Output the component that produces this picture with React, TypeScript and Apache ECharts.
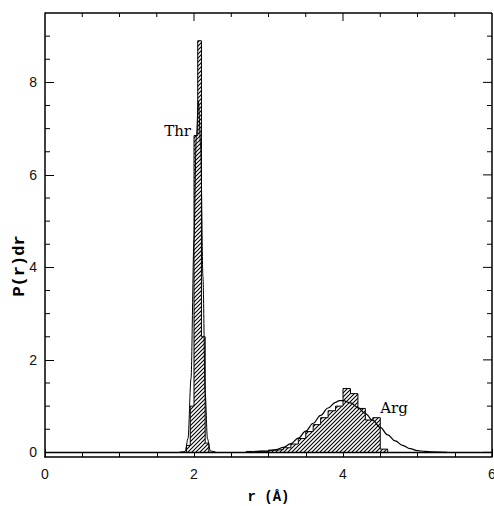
import React, { useEffect, useRef } from 'react';
import * as echarts from 'echarts';

// Histogram of Thr (bin edges in Å, heights P(r)dr)
const thrBinEdges = [1.9, 1.95, 2.0, 2.05, 2.1, 2.15, 2.2];
const thrHeights = [0.15, 1.0, 6.85, 8.9, 2.5, 0.2];

// Histogram of Arg
const argBinEdges = [2.7, 2.8, 2.9, 3.0, 3.1, 3.2, 3.3, 3.4, 3.5, 3.6, 3.7, 3.8, 3.9, 4.0, 4.1, 4.2, 4.3, 4.4, 4.5, 4.6];
const argHeights = [0.02, 0.03, 0.02, 0.05, 0.06, 0.1, 0.18, 0.3, 0.45, 0.6, 0.75, 0.9, 1.0, 1.38, 1.27, 0.95, 0.7, 0.75, 0.07];

// Fitted curves
const thrCurveR = [1.8, 1.88, 1.92, 1.96, 2.0, 2.03, 2.06, 2.09, 2.12, 2.15, 2.18, 2.22, 2.3];
const thrCurveP = [0, 0.02, 0.3, 1.6, 4.6, 6.8, 7.6, 6.6, 3.8, 1.3, 0.3, 0.03, 0];
const argCurveR = [2.8, 3.0, 3.1, 3.2, 3.3, 3.4, 3.5, 3.6, 3.7, 3.8, 3.9, 3.95, 4.0, 4.1, 4.2, 4.3, 4.4, 4.5, 4.6, 4.7, 4.8, 4.9, 5.0, 5.1, 5.2, 5.4];
const argCurveP = [0, 0.03, 0.06, 0.11, 0.19, 0.31, 0.46, 0.63, 0.8, 0.96, 1.08, 1.12, 1.12, 1.07, 0.97, 0.84, 0.69, 0.54, 0.38, 0.25, 0.15, 0.08, 0.04, 0.02, 0.01, 0];
const baselineR = [0, 6];
const baselineP = [0, 0];

// Axis ranges and ticks
const xMin = 0;
const xMax = 6;
const yMin = -0.1;
const yMax = 9.5;
const xMajorTicks = [2, 4];
const xMinorTicks = [0.5, 1, 1.5, 2.5, 3, 3.5, 4.5, 5, 5.5];
const yLabelTicks = [0, 2, 4, 6, 8];
const yMinorTicks = [0.5, 1, 1.5, 2.5, 3, 3.5, 4.5, 5, 5.5, 6.5, 7, 7.5, 8.5, 9];

// Annotations
const annotations = [
  { text: 'Thr', r: 1.96, p: 6.95, align: 'right' },
  { text: 'Arg', r: 4.5, p: 0.97, align: 'left' },
];

function histOutline(edges: number[], heights: number[]) {
  const pts: number[][] = [[edges[0], 0]];
  heights.forEach((h, i) => {
    pts.push([edges[i], h]);
    pts.push([edges[i + 1], h]);
  });
  pts.push([edges[edges.length - 1], 0]);
  return pts;
}

function zip(a: number[], b: number[]) {
  return a.map((v, i) => [v, b[i]]);
}

const hatchSvg =
  'data:image/svg+xml;charset=utf-8,' +
  encodeURIComponent(
    '<svg xmlns="http://www.w3.org/2000/svg" width="4" height="4"><rect width="4" height="4" fill="#fff"/><path d="M0,4L4,0M-1,1L1,-1M3,5L5,3" stroke="#000" stroke-width="1.1"/></svg>'
  );

export default function App() {
  const ref = useRef<HTMLDivElement>(null);
  useEffect(() => {
    if (!ref.current) return;
    const chart = echarts.init(ref.current, null, { renderer: 'svg' });
    const hatch: any = { image: hatchSvg, repeat: 'repeat', imageWidth: 4, imageHeight: 4 };
    const axisLine = { show: true, onZero: false, lineStyle: { color: '#000', width: 1.5 } };
    const labelStyle = { fontFamily: 'Liberation Sans', fontSize: 14, color: '#111' };
    const lineSeries = (data: number[][], width: number, extra: any = {}) => ({
      type: 'line', data, symbol: 'none', silent: true,
      lineStyle: { color: '#000', width }, ...extra,
    });
    chart.setOption({
      animation: false,
      grid: { left: 45, right: 2, top: 13, bottom: 49, outerBoundsMode: 'none' },
      xAxis: {
        type: 'value', min: xMin, max: xMax, interval: 2, position: 'bottom',
        axisLine,
        axisTick: { show: true, inside: true, length: 8, lineStyle: { color: '#000', width: 1 } },
        minorTick: { show: true, splitNumber: 4, length: 4, lineStyle: { color: '#000', width: 1 } },
        splitLine: { show: false },
        axisLabel: { ...labelStyle, margin: 10 },
      },
      yAxis: {
        type: 'value', min: yMin, max: yMax, position: 'left',
        axisLine,
        splitLine: { show: false },
        axisTick: { show: true, inside: true, length: 9, customValues: yLabelTicks, lineStyle: { color: '#000', width: 1 } },
        axisLabel: { ...labelStyle, margin: 8, customValues: yLabelTicks },
      },
      series: [
        lineSeries(histOutline(argBinEdges, argHeights), 1, { areaStyle: { color: hatch, opacity: 1 } }),
        lineSeries(histOutline(thrBinEdges, thrHeights), 1, { areaStyle: { color: hatch, opacity: 1 } }),
        lineSeries(zip(baselineR, baselineP), 1.5),
        lineSeries(zip(argCurveR, argCurveP), 1.2, { smooth: 0.4, smoothMonotone: 'x' }),
        lineSeries(zip(thrCurveR, thrCurveP), 1.0, { smooth: 0.3, smoothMonotone: 'x' }),
      ],
    });
    const px = (r: number, p: number) => chart.convertToPixel({ xAxisIndex: 0, yAxisIndex: 0 }, [r, p]) as number[];
    const [left, top] = px(xMin, yMax);
    const [right, bottom] = px(xMax, yMin);
    const stroke = { stroke: '#000', lineWidth: 1 };
    const g: any[] = [];
    g.push({ type: 'line', z: 100, silent: true, shape: { x1: left, y1: top, x2: right, y2: top }, style: { stroke: '#000', lineWidth: 1.5 } });
    g.push({ type: 'line', z: 100, silent: true, shape: { x1: right, y1: top, x2: right, y2: bottom }, style: { stroke: '#000', lineWidth: 1.5 } });
    xMajorTicks.forEach((v) => { const x = px(v, 0)[0]; g.push({ type: 'line', z: 100, silent: true, shape: { x1: x, y1: top, x2: x, y2: top + 8 }, style: stroke }); });
    xMinorTicks.forEach((v) => { const x = px(v, 0)[0]; g.push({ type: 'line', z: 100, silent: true, shape: { x1: x, y1: top, x2: x, y2: top + 4 }, style: stroke }); });
    yLabelTicks.forEach((v) => { const y = px(0, v)[1]; g.push({ type: 'line', z: 100, silent: true, shape: { x1: right, y1: y, x2: right - 9, y2: y }, style: stroke }); });
    yMinorTicks.forEach((v) => {
      const y = px(0, v)[1];
      g.push({ type: 'line', z: 100, silent: true, shape: { x1: right, y1: y, x2: right - 5, y2: y }, style: stroke });
      g.push({ type: 'line', z: 100, silent: true, shape: { x1: left, y1: y, x2: left + 5, y2: y }, style: stroke });
    });
    annotations.forEach((a) => {
      const [ax, ay] = px(a.r, a.p);
      g.push({
        type: 'text', z: 100, x: ax, y: ay,
        style: { text: a.text, fontFamily: 'DejaVu Serif', fontSize: 15, fill: '#000', align: a.align, verticalAlign: 'middle' },
      });
    });
    g.push({
      type: 'text', z: 100, x: (left + right) / 2, y: 497,
      style: { text: 'r (Å)', fontFamily: 'Liberation Mono', fontWeight: 'bold', fontSize: 14, fill: '#000', align: 'center', verticalAlign: 'middle' },
    });
    g.push({
      type: 'text', z: 100, x: 19, y: 266, rotation: Math.PI / 2,
      style: { text: 'P(r)dr', fontFamily: 'Liberation Mono', fontWeight: 'bold', fontSize: 17, fill: '#000', align: 'center', verticalAlign: 'middle' },
    });
    chart.setOption({ graphic: g });
    return () => chart.dispose();
  }, []);
  return <div ref={ref} style={{ position: 'absolute', left: 0, top: 0, width: 494, height: 506, background: '#fff' }} />;
}
